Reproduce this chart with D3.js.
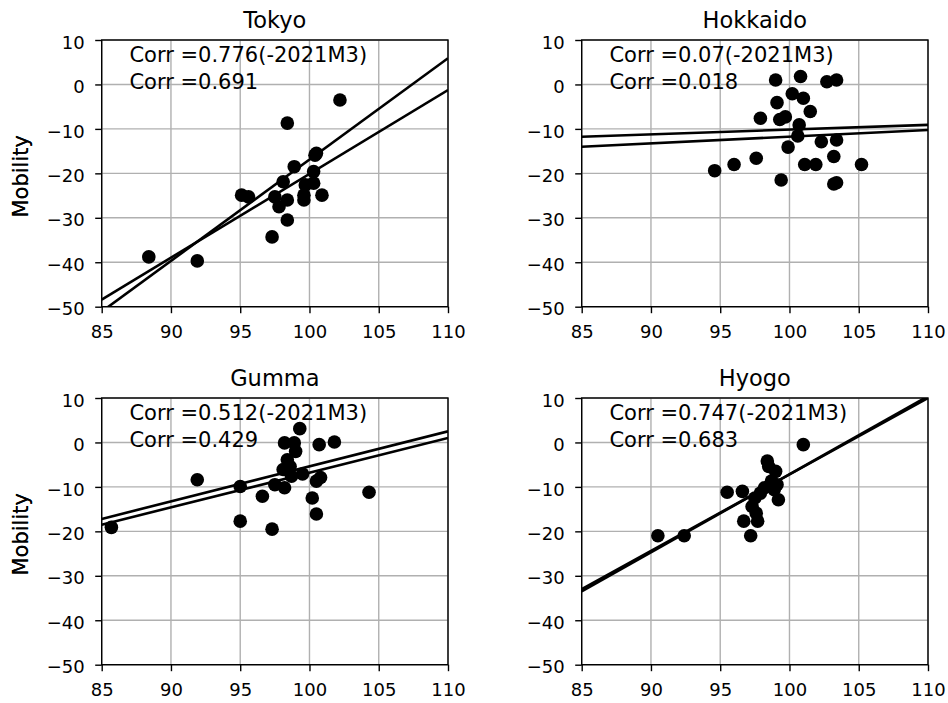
<!DOCTYPE html>
<html>
<head>
<meta charset="utf-8">
<script src="https://cdn.jsdelivr.net/npm/d3@7"></script>
<style>
  body { margin: 0; background: #fff; }
  text { font-family: "DejaVu Sans", sans-serif; fill: #000; }
</style>
</head>
<body>
<div id="chart"></div>
<script>
const width = 948;
const height = 703;

// section 1
// values (x = price index, y = mobility)

const xTicks = [85, 90, 95, 100, 105, 110];
const yTicks = [10, 0, -10, -20, -30, -40, -50];

const tokyoX = [88.4, 91.9, 95.1, 95.6, 97.3, 97.5, 97.8, 98.4, 98.4, 98.4, 98.1, 98.9, 99.6, 99.6, 99.7, 100.3, 100.3, 100.4, 100.5, 100.9, 102.2];
const tokyoY = [-38.8, -39.7, -24.9, -25.3, -34.3, -25.3, -27.5, -8.7, -26.0, -30.5, -21.9, -18.5, -24.9, -26.0, -22.6, -22.2, -19.6, -15.9, -15.5, -24.9, -3.5];
const tokyoFit = [[-51.1, 5.9], [-48.4, -1.25]];
const tokyoCorr = ["Corr =0.776(-2021M3)", "Corr =0.691"];

const hokkaidoX = [94.6, 96.0, 97.6, 97.9, 99.0, 99.1, 99.3, 99.7, 99.4, 99.9, 100.2, 100.8, 101.0, 101.5, 100.7, 100.6, 101.1, 101.9, 102.3, 102.7, 103.4, 103.4, 103.2, 103.2, 103.4, 105.2];
const hokkaidoY = [-19.4, -18.0, -16.6, -7.6, 1.0, -4.1, -7.9, -7.3, -21.5, -14.1, -2.1, 1.8, -3.1, -6.1, -9.1, -11.6, -18.0, -18.0, -12.9, 0.6, 1.0, -12.5, -16.2, -22.4, -22.1, -18.0];
const hokkaidoFit = [[-11.75, -9.1], [-14.0, -10.25]];
const hokkaidoCorr = ["Corr =0.07(-2021M3)", "Corr =0.018"];

const gummaX = [85.7, 91.9, 95.0, 95.0, 96.6, 97.3, 97.5, 98.2, 98.2, 98.9, 99.0, 98.4, 98.1, 98.6, 98.7, 99.3, 99.5, 100.2, 100.5, 100.5, 100.8, 100.7, 101.8, 104.3];
const gummaY = [-19.1, -8.4, -9.9, -17.7, -12.1, -19.5, -9.5, -10.2, -0.1, -0.1, -2.0, -3.9, -6.1, -5.4, -7.6, 3.1, -7.1, -12.5, -16.1, -8.7, -7.9, -0.5, 0.1, -11.2];
const gummaFit = [[-17.2, 2.5], [-18.5, 1.0]];
const gummaCorr = ["Corr =0.512(-2021M3)", "Corr =0.429"];

const hyogoX = [90.5, 92.4, 95.5, 96.6, 96.7, 97.2, 97.3, 97.5, 97.7, 97.6, 97.9, 98.2, 98.4, 98.5, 98.7, 99.0, 98.9, 99.2, 99.1, 101.0];
const hyogoY = [-21.0, -21.0, -11.2, -11.0, -17.7, -21.0, -14.4, -12.5, -17.7, -15.9, -11.4, -10.2, -4.2, -5.4, -8.7, -6.5, -10.6, -12.9, -9.5, -0.5];
const hyogoFit = [[-33.5, 10.4], [-33.0, 10.0]];
const hyogoCorr = ["Corr =0.747(-2021M3)", "Corr =0.683"];

const panels = [
    { title: "Tokyo", xs: tokyoX, ys: tokyoY, fit: tokyoFit, corr: tokyoCorr, left: 101.7, top: 40 },
    { title: "Hokkaido", xs: hokkaidoX, ys: hokkaidoY, fit: hokkaidoFit, corr: hokkaidoCorr, left: 581.7, top: 40 },
    { title: "Gumma", xs: gummaX, ys: gummaY, fit: gummaFit, corr: gummaCorr, left: 101.7, top: 398 },
    { title: "Hyogo", xs: hyogoX, ys: hyogoY, fit: hyogoFit, corr: hyogoCorr, left: 581.7, top: 398 }
];

const pw = 346.3;
const ph = 266.7;

// section 2
// draw the four panels

const svg = d3.select('#chart')
    .append('svg')
    .attr('width', width)
    .attr('height', height);

panels.forEach((p, i) => {
    const g = svg.append("g")
        .attr("transform", `translate(${p.left}, ${p.top})`);

    const xScale = d3.scaleLinear().domain([85, 110]).range([0, pw]);
    const yScale = d3.scaleLinear().domain([-50, 10]).range([ph, 0]);

    g.append("clipPath")
        .attr("id", `clip${i}`)
        .append("rect")
        .attr("width", pw)
        .attr("height", ph);

    // grid
    g.append("g")
        .selectAll("line")
        .data(xTicks)
        .join("line")
        .attr("x1", d => xScale(d)).attr("x2", d => xScale(d))
        .attr("y1", 0).attr("y2", ph)
        .style("stroke", "#b0b0b0")
        .style("stroke-width", "1.4px");
    g.append("g")
        .selectAll("line")
        .data(yTicks)
        .join("line")
        .attr("y1", d => yScale(d)).attr("y2", d => yScale(d))
        .attr("x1", 0).attr("x2", pw)
        .style("stroke", "#b0b0b0")
        .style("stroke-width", "1.4px");

    // points
    const pts = p.xs.map((x, j) => ({ x, y: p.ys[j] }));
    g.append("g")
        .attr("clip-path", `url(#clip${i})`)
        .selectAll("circle")
        .data(pts)
        .join("circle")
        .attr("cx", d => xScale(d.x))
        .attr("cy", d => yScale(d.y))
        .attr("r", 6.8)
        .style("fill", "#000");

    // fitted lines
    g.append("g")
        .attr("clip-path", `url(#clip${i})`)
        .selectAll("line")
        .data(p.fit)
        .join("line")
        .attr("x1", xScale(85)).attr("x2", xScale(110))
        .attr("y1", d => yScale(d[0]))
        .attr("y2", d => yScale(d[1]))
        .style("stroke", "#000")
        .style("stroke-width", "2.6px");

    // corr text
    g.selectAll(".corr")
        .data(p.corr)
        .join("text")
        .attr("class", "corr")
        .attr("x", xScale(87))
        .attr("y", (d, j) => yScale(j === 0 ? 5 : -1))
        .style("font-size", "21px")
        .text(d => d);

    // axes
    const xAxisGroup = g.append("g")
        .attr("transform", `translate(0, ${ph})`)
        .call(d3.axisBottom(xScale).tickValues(xTicks).tickSize(6.5).tickSizeOuter(0));
    xAxisGroup.select(".domain").remove();
    xAxisGroup.selectAll(".tick line").style("stroke-width", "1.4px");
    xAxisGroup.selectAll(".tick text")
        .attr("y", 31.5)
        .attr("dy", 0)
        .style("font-size", "18px")
        .style("font-family", "DejaVu Sans")
        .style("fill", "#000");

    const yAxisGroup = g.append("g")
        .call(d3.axisLeft(yScale).tickValues(yTicks).tickSize(6.5).tickSizeOuter(0));
    yAxisGroup.select(".domain").remove();
    yAxisGroup.selectAll(".tick line").style("stroke-width", "1.4px");
    yAxisGroup.selectAll(".tick text")
        .attr("x", -17)
        .attr("dy", "0.45em")
        .style("font-size", "18px")
        .style("font-family", "DejaVu Sans")
        .style("fill", "#000");

    // frame
    g.append("rect")
        .attr("width", pw)
        .attr("height", ph)
        .style("fill", "none")
        .style("stroke", "#000")
        .style("stroke-width", "1.4px");

    g.append("text")
        .attr("x", pw / 2)
        .attr("y", -12.5)
        .style("text-anchor", "middle")
        .style("font-size", "22.5px")
        .text(p.title);

    g.append("text")
        .attr("transform", `translate(${28 - p.left}, ${ph / 2 + 3}) rotate(-90)`)
        .style("text-anchor", "middle")
        .style("font-size", "21px")
        .text("Mobility");
});
</script>
</body>
</html>
